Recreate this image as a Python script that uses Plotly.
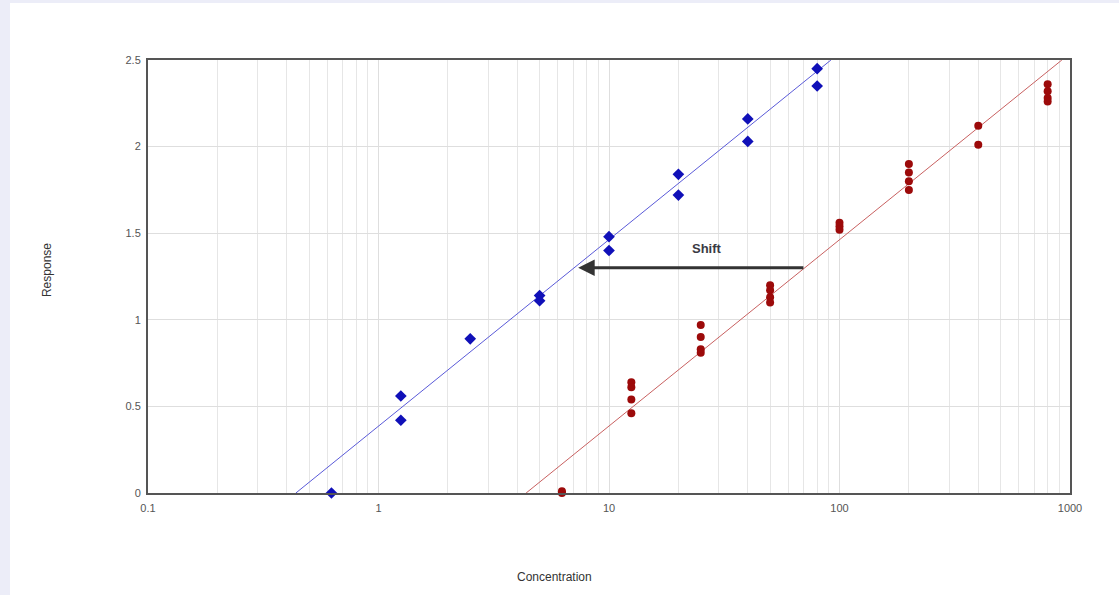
import plotly.graph_objects as go
import math

# ---- data ----
blue_x = [0.625, 1.25, 1.25, 2.5, 5, 5, 10, 10, 20, 20, 40, 40, 80, 80]
blue_y = [0.0, 0.56, 0.42, 0.89, 1.14, 1.11, 1.48, 1.40, 1.84, 1.72, 2.16, 2.03, 2.45, 2.35]

red_x = [6.25, 6.25,
         12.5, 12.5, 12.5, 12.5,
         25, 25, 25, 25,
         50, 50, 50, 50,
         100, 100, 100,
         200, 200, 200, 200,
         400, 400,
         800, 800, 800, 800]
red_y = [0.0, 0.01,
         0.64, 0.61, 0.54, 0.46,
         0.97, 0.90, 0.83, 0.81,
         1.20, 1.17, 1.13, 1.10,
         1.56, 1.54, 1.52,
         1.90, 1.85, 1.80, 1.75,
         2.12, 2.01,
         2.36, 2.32, 2.28, 2.26]

blue_fit_x = [0.438, 91.8]
blue_fit_y = [0.0, 2.5]
red_fit_x = [4.37, 922]
red_fit_y = [0.0, 2.5]

shift_from_x, shift_to_x, shift_y = 70.8, 7.35, 1.30
shift_label = "Shift"

x_tickvals = [0.1, 1, 10, 100, 1000]
x_ticktext = ["0.1", "1", "10", "100", "1000"]
y_tickvals = [0, 0.5, 1, 1.5, 2, 2.5]
y_ticktext = ["0", "0.5", "1", "1.5", "2", "2.5"]

FONT = "Arial, Liberation Sans"

fig = go.Figure()

fig.add_trace(go.Scatter(x=blue_fit_x, y=blue_fit_y, mode="lines",
                         line=dict(color="#5a5ad8", width=1), showlegend=False))
fig.add_trace(go.Scatter(x=red_fit_x, y=red_fit_y, mode="lines",
                         line=dict(color="#c86060", width=1), showlegend=False))
fig.add_trace(go.Scatter(x=blue_x, y=blue_y, mode="markers",
                         marker=dict(symbol="diamond", size=9, color="#1010b8"),
                         showlegend=False, cliponaxis=False))
fig.add_trace(go.Scatter(x=red_x, y=red_y, mode="markers",
                         marker=dict(symbol="circle", size=8, color="#9c0a0a"),
                         showlegend=False, cliponaxis=False))

fig.add_annotation(x=math.log10(shift_to_x), y=shift_y, ax=math.log10(shift_from_x), ay=shift_y,
                   xref="x", yref="y", axref="x", ayref="y",
                   text="", showarrow=True, arrowhead=2, arrowsize=1.1, arrowwidth=3,
                   arrowcolor="#333333", standoff=0)
fig.add_annotation(x=math.log10(26.6), y=1.41, xref="x", yref="y", text="<b>" + shift_label + "</b>",
                   showarrow=False, font=dict(family=FONT, size=13, color="#3a3a44"))

# axis titles
fig.add_annotation(x=0.4414, y=-0.194, xref="paper", yref="paper", text="Concentration",
                   xanchor="center", yanchor="middle",
                   showarrow=False, font=dict(family=FONT, size=12, color="#333333"))
fig.add_annotation(x=-0.1095, y=0.515, xref="paper", yref="paper", text="Response",
                   xanchor="center", yanchor="middle",
                   textangle=-90, showarrow=False, font=dict(family=FONT, size=12, color="#333333"))

# white panel on lavender page
fig.add_shape(type="rect", xref="paper", yref="paper",
              x0=-0.1497, x1=1.06, y0=-0.25, y1=1.1316,
              fillcolor="white", line=dict(width=0), layer="below")

fig.update_xaxes(type="log", range=[-1, 3], tickvals=x_tickvals, ticktext=x_ticktext,
                 showgrid=True, gridcolor="#dedede", gridwidth=1,
                 minor=dict(showgrid=True, gridcolor="#e6e6e6", gridwidth=1,
                            tickvals=[m * 10 ** e for e in range(-1, 3) for m in range(2, 10)]),
                 showline=True, linecolor="#555555", linewidth=2, mirror=True,
                 ticks="outside", ticklen=4, tickcolor="rgba(0,0,0,0)", zeroline=False,
                 tickfont=dict(family=FONT, size=11, color="#555555"))
fig.update_yaxes(range=[0, 2.5], tickvals=y_tickvals, ticktext=y_ticktext,
                 showgrid=True, gridcolor="#dedede", gridwidth=1,
                 showline=True, linecolor="#555555", linewidth=2, mirror=True,
                 ticks="outside", ticklen=3, tickcolor="rgba(0,0,0,0)", zeroline=False,
                 tickfont=dict(family=FONT, size=11, color="#555555"))

fig.update_layout(width=1119, height=595,
                  margin=dict(l=148, r=49, t=60, b=102),
                  paper_bgcolor="#ecedf8", plot_bgcolor="white",
                  showlegend=False)

fig.write_html("out.html")
